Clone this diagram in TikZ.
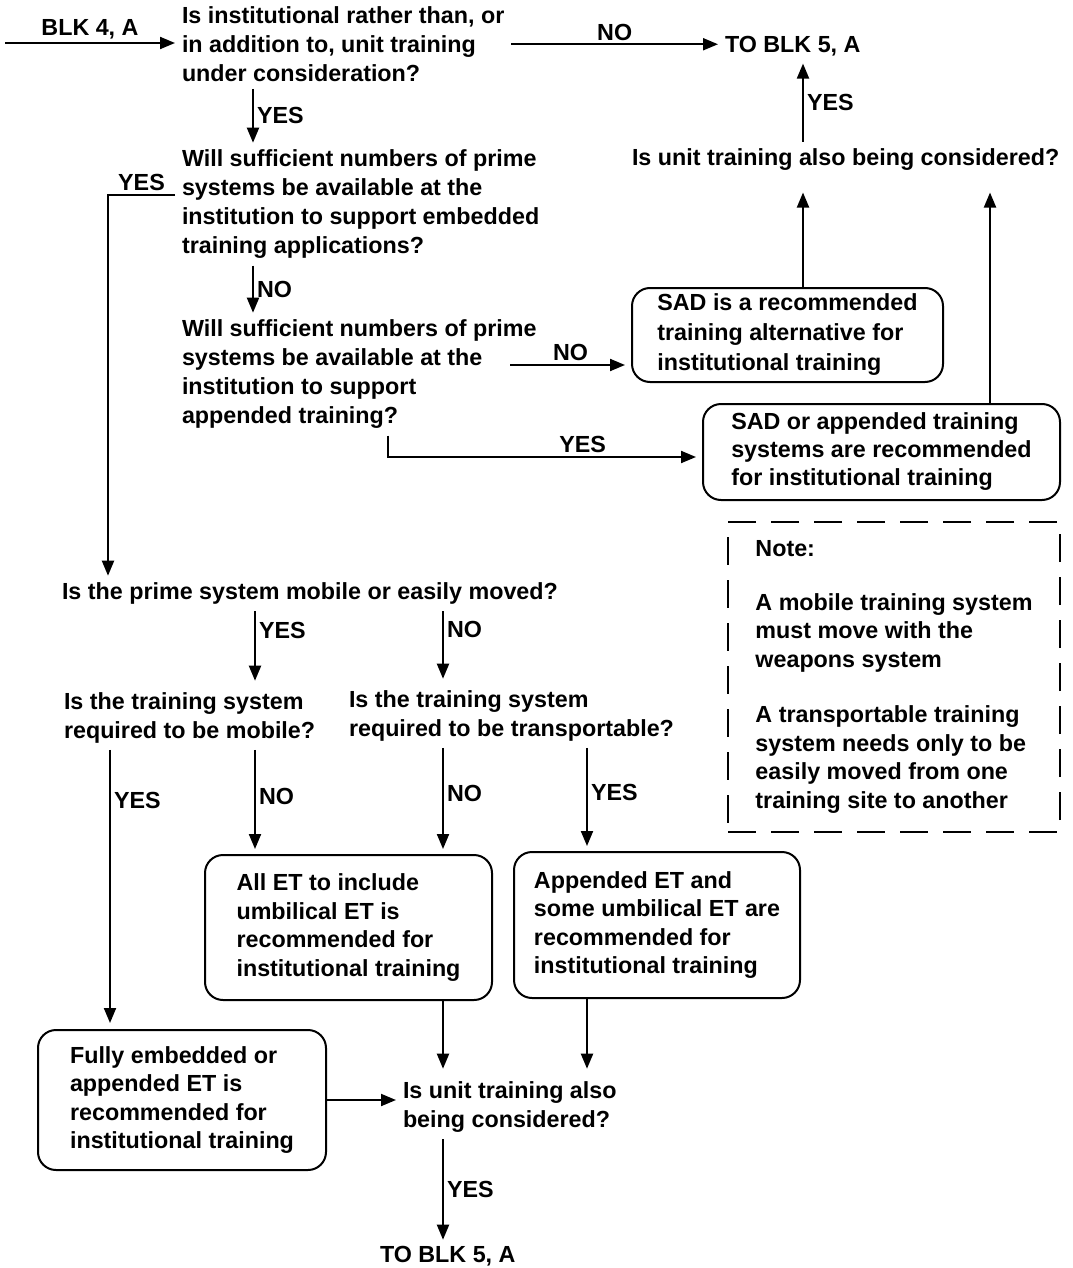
\documentclass[tikz,border=0pt]{standalone}
\usepackage{fontspec}
\setmainfont{Liberation Sans}
\usetikzlibrary{arrows.meta}
\begin{document}
\begin{tikzpicture}[x=1pt,y=-1pt,
  every node/.style={font=\bfseries\fontsize{23.3}{29}\selectfont},
  q/.style={anchor=north west, align=left, inner sep=0pt, outer sep=7pt},
  low/.style={font=\bfseries\fontsize{23.3}{28.5}\selectfont},
  box/.style={draw, line width=2pt, rounded corners=18pt, align=left, inner sep=0pt},
  arr/.style={line width=2pt, -{Triangle[length=15pt,width=12pt]}},
  lbl/.style={inner sep=3pt},
]
\useasboundingbox (0,0) rectangle (1072,1268);

% column positions of the vertical connectors
\coordinate (colA) at (253,0);
\coordinate (colB) at (255,0);
\coordinate (colC) at (110,0);
\coordinate (colE) at (443,0);
\coordinate (colD) at (587,0);
\coordinate (colQ) at (388,0);
\coordinate (colR) at (803,0);
\coordinate (colS) at (990,0);
\coordinate (inL) at (5,43);
\coordinate (yesL) at (108,195);
\coordinate (q3no) at (510,365);

% questions
\node[q] (q1) at (175,-0.3) {Is institutional rather than, or\\in addition to, unit training\\under consideration?};
\node[q] (blk5a) at (718,29.7) {TO BLK 5, A};
\node[q] (q2) at (175,142.7) {Will sufficient numbers of prime\\systems be available at the\\institution to support embedded\\training applications?};
\node[q] (q3) at (175,312.7) {Will sufficient numbers of prime\\systems be available at the\\institution to support\\appended training?};
\node[q] (unitq) at (625,141.7) {Is unit training also being considered?};
\node[q,low] (mob) at (55,575.7) {Is the prime system mobile or easily moved?};
\node[q,low] (tmob) at (57,685.7) {Is the training system\\required to be mobile?};
\node[q,low] (ttrans) at (342,683.7) {Is the training system\\required to be transportable?};
\node[q,low] (unitq2) at (396,1074.7) {Is unit training also\\being considered?};
\node[q,low] (blk5b) at (373,1239.7) {TO BLK 5, A};

% recommendation boxes
\node[box, minimum width=311pt, minimum height=94pt, font=\bfseries\fontsize{23.3}{30}\selectfont] (sad1) at (787.5,335) {SAD is a recommended\\training alternative for\\institutional training};
\node[box, minimum width=357pt, minimum height=96pt, font=\bfseries\fontsize{23.3}{28}\selectfont] (sad2) at (881.5,452) {SAD or appended training\\systems are recommended\\for institutional training};
\node[box, low, minimum width=287pt, minimum height=145pt] (allet) at (348.5,927.5) {All ET to include\\umbilical ET is\\recommended for\\institutional training};
\node[box, low, minimum width=286pt, minimum height=146pt] (appet) at (657,925) {Appended ET and\\some umbilical ET are\\recommended for\\institutional training};
\node[box, low, minimum width=288pt, minimum height=140pt] (fully) at (182,1100) {Fully embedded or\\appended ET is\\recommended for\\institutional training};

% note
\node[draw, dash pattern=on 28pt off 15pt, line width=2pt, minimum width=332pt, minimum height=310pt, align=left, inner sep=0pt, font=\bfseries\fontsize{23.3}{28.5}\selectfont] (note) at (894,677)
  {Note:\\[25pt]A mobile training system\\must move with the\\weapons system\\[27pt]A transportable training\\system needs only to be\\easily moved from one\\training site to another};

% connectors
\draw[arr] (inL) -- (inL -| q1.west) node[midway, above, lbl]{BLK 4, A};
\draw[arr] (q1.east) -- (q1.east -| blk5a.west) node[midway, above, lbl]{NO};
\draw[arr] (q1.south -| colA) -- (q2.north -| colA) node[midway, right, lbl]{YES};
\draw[arr] (q2.west |- yesL) -- node[above, lbl]{YES} (yesL) -- (mob.north -| yesL);
\draw[arr] (q2.south -| colA) -- (q3.north -| colA) node[midway, right, lbl]{NO};
\draw[arr, shorten >=6pt] (q3no) -- (q3no -| sad1.west) node[midway, above, lbl]{NO};
\draw[arr, shorten >=6pt] (q3.south -| colQ) |- ([yshift=-5pt]sad2.west) node[pos=0.81, above, lbl]{YES};
\draw[arr, shorten >=15pt] (sad1.north -| colR) -- (unitq.south -| colR);
\draw[arr, shorten >=15pt] (sad2.north -| colS) -- (unitq.south -| colS);
\draw[arr] (unitq.north -| colR) -- (blk5a.south -| colR) node[midway, right, lbl]{YES};

\draw[arr, shorten >=5pt] (mob.south -| colB) -- (tmob.north -| colB) node[pos=0.25, right, lbl]{YES};
\draw[arr, shorten >=5pt] (mob.south -| colE) -- (ttrans.north -| colE) node[pos=0.25, right, lbl]{NO};
\draw[arr, shorten >=6pt] (tmob.south -| colC) -- (fully.north -| colC) node[pos=0.18, right, lbl]{YES};
\draw[arr, shorten >=5pt] (tmob.south -| colB) -- (allet.north -| colB) node[pos=0.45, right, lbl]{NO};
\draw[arr, shorten >=5pt] (ttrans.south -| colE) -- (allet.north -| colE) node[pos=0.43, right, lbl]{NO};
\draw[arr, shorten >=5pt] (ttrans.south -| colD) -- (appet.north -| colD) node[pos=0.43, right, lbl]{YES};
\draw[arr, shorten >=6pt] (allet.south -| colE) -- (unitq2.north -| colE);
\draw[arr, shorten >=6pt] (appet.south -| colD) -- (unitq2.north -| colD);
\draw[arr] (fully.east) -- (unitq2.west |- fully.east);
\draw[arr] (unitq2.south -| colE) -- (blk5b.north -| colE) node[midway, right, lbl]{YES};
\end{tikzpicture}
\end{document}
